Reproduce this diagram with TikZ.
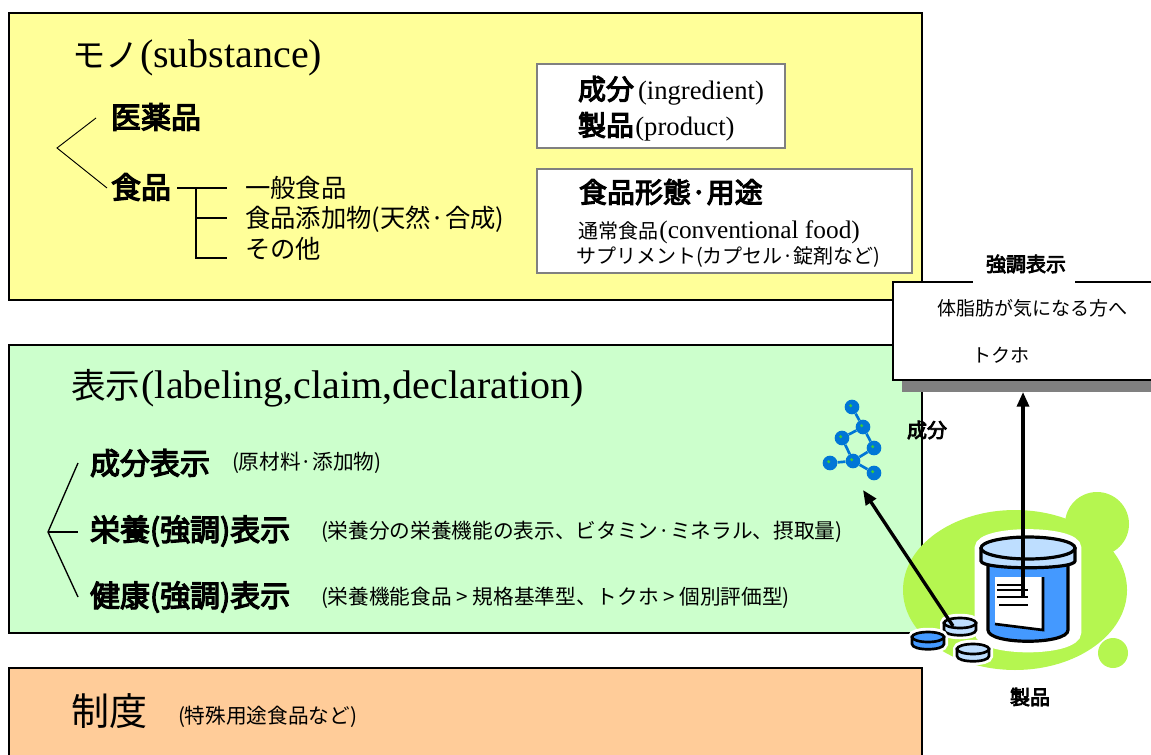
\documentclass[tikz,border=0pt]{standalone}
\usepackage{fontspec}
\setmainfont{Liberation Serif}
\newfontfamily\jp{Noto Sans CJK JP}
\newfontfamily\jpb[FakeBold=4]{Noto Sans CJK JP}
\usetikzlibrary{arrows.meta}
\newcommand\fsz[1]{\fontsize{#1}{#1}\selectfont}

\definecolor{yellowbg}{RGB}{255,255,153}
\definecolor{greenbg}{RGB}{204,255,204}
\definecolor{orangebg}{RGB}{255,204,153}
\definecolor{boxgrey}{RGB}{128,128,128}
\definecolor{shadowgrey}{RGB}{128,128,128}
\definecolor{lime}{RGB}{181,246,80}
\definecolor{jarblue}{RGB}{68,153,255}
\definecolor{lightblue}{RGB}{190,222,255}
\definecolor{molblue}{RGB}{0,118,214}
\definecolor{moldot}{RGB}{60,200,60}

\tikzset{
  panel/.style={draw=black, line width=1.3pt},
  subbox/.style={draw=boxgrey, line width=1.5pt, fill=white},
  lbl/.style={anchor=west, inner sep=0pt, outer sep=0pt},
  clbl/.style={anchor=center, inner sep=0pt, outer sep=0pt},
  latin/.style={anchor=base west, inner sep=0pt, outer sep=0pt, font=\rmfamily},
  branch/.style={line width=0.8pt},
  bigarrow/.style={line width=2.5pt, -{Triangle[length=11pt,width=9pt]}},
  atom/.style={circle, fill=molblue, minimum size=11pt, inner sep=0pt},
  bond/.style={draw=molblue, line width=2pt},
  jarline/.style={draw=black, line width=2.4pt},
  pillline/.style={draw=black, line width=2pt},
}

% one tablet: centre of its top face, colour of top, colour of side
\newcommand\drawpill[4]{%
  \begin{scope}[shift={(#1,#2)}]
    \draw[white, line width=6pt, fill=white] (-16,0) -- (-16,7) .. controls (-16,14) and (16,14) .. (16,7) -- (16,0) .. controls (16,-7) and (-16,-7) .. (-16,0) -- cycle;
    \draw[pillline, fill=#4] (-16,0) -- (-16,7) .. controls (-16,14) and (16,14) .. (16,7) -- (16,0) -- cycle;
    \draw[pillline, fill=#3] (0,0) ellipse [x radius=16, y radius=5];
  \end{scope}}

\begin{document}
\begin{tikzpicture}[x=0.75pt, y=-0.75pt]
\useasboundingbox (0,0) rectangle (1151,755);

% ---------- panels ----------
\draw[panel, fill=yellowbg] (9,13) rectangle (922,300);
\draw[panel, fill=greenbg]  (9,345) rectangle (922,633);
\draw[panel, fill=orangebg] (9,668) rectangle (922,770);

% ---------- substance ----------
\node[lbl] (mono) at (72,55) {\fsz{25pt}\jp モノ};
\node[latin] (monoen) at ([xshift=1pt]mono.base east) {\fsz{30pt}(substance)};

\node[lbl] (iyaku) at (111,117) {\fsz{22.5pt}\jpb 医薬品};
\node[lbl] (shoku) at (111,187) {\fsz{22.5pt}\jpb 食品};
\coordinate (vtop) at (96,118);
\coordinate (vtip) at (57,148);
\coordinate (vbot) at (107,188);
\draw[line width=0.7pt] (vtop) -- (vtip) -- (vbot);

\coordinate (t0) at (177,188);
\coordinate (t1) at (196,188);
\coordinate (t2) at (196,218);
\coordinate (t3) at (196,258);
\node[lbl] (ippan) at (245,188) {\fsz{19pt}\jp 一般食品};
\node[lbl] (tenka) at (245,219) {\fsz{19pt}\jp 食品添加物(天然·合成)};
\node[lbl] (sonota) at (245,249) {\fsz{19pt}\jp その他};
\draw[branch] (t0) -- (227,188);
\draw[branch] (t1) -- (t3) -- (227,258);
\draw[branch] (t2) -- (227,218);

\node[subbox, minimum width=186pt, minimum height=63pt, anchor=north west] (box1) at (536,63) {};
\node[lbl] (seibun) at (578,89) {\fsz{21pt}\jpb 成分};
\node[latin] (seibunen) at ([xshift=3pt]seibun.base east) {\fsz{20pt}(ingredient)};
\node[lbl] (seihin) at (578,125) {\fsz{21pt}\jpb 製品};
\node[latin] (seihinen) at ([xshift=1pt]seihin.base east) {\fsz{20pt}(product)};

\node[subbox, minimum width=281pt, minimum height=78pt, anchor=north west] (box2) at (536,168) {};
\node[lbl] (keitai) at (579,192) {\fsz{21pt}\jpb 食品形態·用途};
\node[lbl] (tsujo) at (578,231) {\fsz{15pt}\jp 通常食品};
\node[latin] (tsujoen) at ([xshift=1pt]tsujo.base east) {\fsz{19pt}(conventional food)};
\node[lbl] (supple) at (576,257) {\fsz{15pt}\jp サプリメント(カプセル·錠剤など)};

% ---------- labeling ----------
\node[lbl] (hyoji) at (71,385) {\fsz{26pt}\jp 表示};
\node[latin] (hyojien) at ([xshift=1pt]hyoji.base east) {\fsz{30pt}(labeling,claim,declaration)};

\coordinate (g1) at (78,463);
\coordinate (g0) at (48,532);
\coordinate (g2) at (78,532);
\coordinate (g3) at (78,597);
\draw[line width=1pt] (g1) -- (g0) -- (g3);
\draw[line width=1pt] (g0) -- (g2);

\node[lbl] (c1) at (90,463) {\fsz{22.5pt}\jpb 成分表示};
\node[lbl] (d1) at (232,463) {\fsz{15.5pt}\jp (原材料·添加物)};
\node[lbl] (c2) at (90,531) {\fsz{22.5pt}\jpb 栄養(強調)表示};
\node[lbl] (d2) at (321,532) {\fsz{15.5pt}\jp (栄養分の栄養機能の表示、ビタミン·ミネラル、摂取量)};
\node[lbl] (c3) at (90,597) {\fsz{22.5pt}\jpb 健康(強調)表示};
\node[lbl] (d3) at (321,598) {\fsz{15.5pt}\jp (栄養機能食品 > 規格基準型、トクホ > 個別評価型)};

% ---------- system ----------
\node[lbl] (seido) at (71,711) {\fsz{28.5pt}\jp 制度};
\node[lbl] (tokushu) at (178,717) {\fsz{15.5pt}\jp (特殊用途食品など)};

% ---------- claim callout ----------
\fill[shadowgrey] (902,292) rectangle (1165,392);
\draw[line width=1.5pt, fill=white] (893,282) rectangle (1160,380);
\fill[white] (973,250) rectangle (1075,284);
\node[clbl] (kyocho) at (1026,264) {\fsz{15pt}\jpb 強調表示};
\node[lbl] (taishibo) at (937,308) {\fsz{14.3pt}\jp 体脂肪が気になる方へ};
\node[lbl] (tokuho) at (972,355) {\fsz{14.3pt}\jp トクホ};
\coordinate (calloutbase) at (1023,392);

% ---------- molecule ----------
\node[atom] (m1) at (852,407) {};
\node[atom] (m2) at (863,427) {};
\node[atom] (m3) at (842,438) {};
\node[atom] (m4) at (874,448) {};
\node[atom] (m5) at (853,461) {};
\node[atom] (m6) at (830,463) {};
\node[atom] (m7) at (874,473) {};
\foreach \a/\b in {m1/m2, m2/m3, m2/m4, m3/m5, m4/m5, m5/m6, m5/m7}
  \draw[bond] (\a) -- (\b);
\foreach \m in {m1,m2,m3,m4,m5,m6,m7}
  \fill[moldot] ([xshift=-1pt,yshift=1pt]\m.center) circle [radius=1.3pt];
\node[lbl] (molname) at (907,430) {\fsz{15pt}\jpb 成分};
\coordinate (molbase) at (863,490);

% ---------- product picture ----------
\fill[lime] (1015,590) ellipse [x radius=112, y radius=80];
\fill[lime] (1097,524) circle [radius=32];
\fill[lime] (1113,653) circle [radius=15];

% white halo round the jar
\draw[white, line width=8pt, fill=white] (980,548) -- (980,632) .. controls (980,652) and (1076,652) .. (1076,632) -- (1076,548) .. controls (1076,530) and (980,530) .. (980,548) -- cycle;
% jar body
\draw[jarline, fill=jarblue] (988,560) -- (988,630) .. controls (988,645) and (1068,645) .. (1068,630) -- (1068,560) -- cycle;
% jar label
\fill[white] (995,577) -- (1043,577) -- (1043,630) -- (995,624) -- cycle;
\draw[line width=2pt] (1043,577) -- (1043,630) -- (995,624);
\draw[line width=1.3pt] (997,585) -- (1021,585);
\draw[line width=1.3pt] (997,590) -- (1028,590);
\draw[line width=1.3pt] (997,597) -- (1028,597);
\draw[line width=1.3pt] (999,605) -- (1028,605);
% jar lid
\draw[jarline, fill=lightblue] (981,549) -- (981,561) .. controls (981,570) and (1075,570) .. (1075,561) -- (1075,549) -- cycle;
\draw[jarline, fill=lightblue] (1028,548) ellipse [x radius=47, y radius=11];
\coordinate (jarinside) at (1023,598);

% tablets
\drawpill{960}{623}{lightblue}{lightblue}
\drawpill{928}{637}{jarblue}{jarblue}
\drawpill{973}{649}{lightblue}{lightblue}
\coordinate (tablet) at (953,626);

\node[clbl] (seihinpic) at (1030,697) {\fsz{15pt}\jpb 製品};

% ---------- arrows ----------
\draw[bigarrow] (tablet) -- (molbase);
\draw[bigarrow] (jarinside) -- (calloutbase);

\end{tikzpicture}
\end{document}
